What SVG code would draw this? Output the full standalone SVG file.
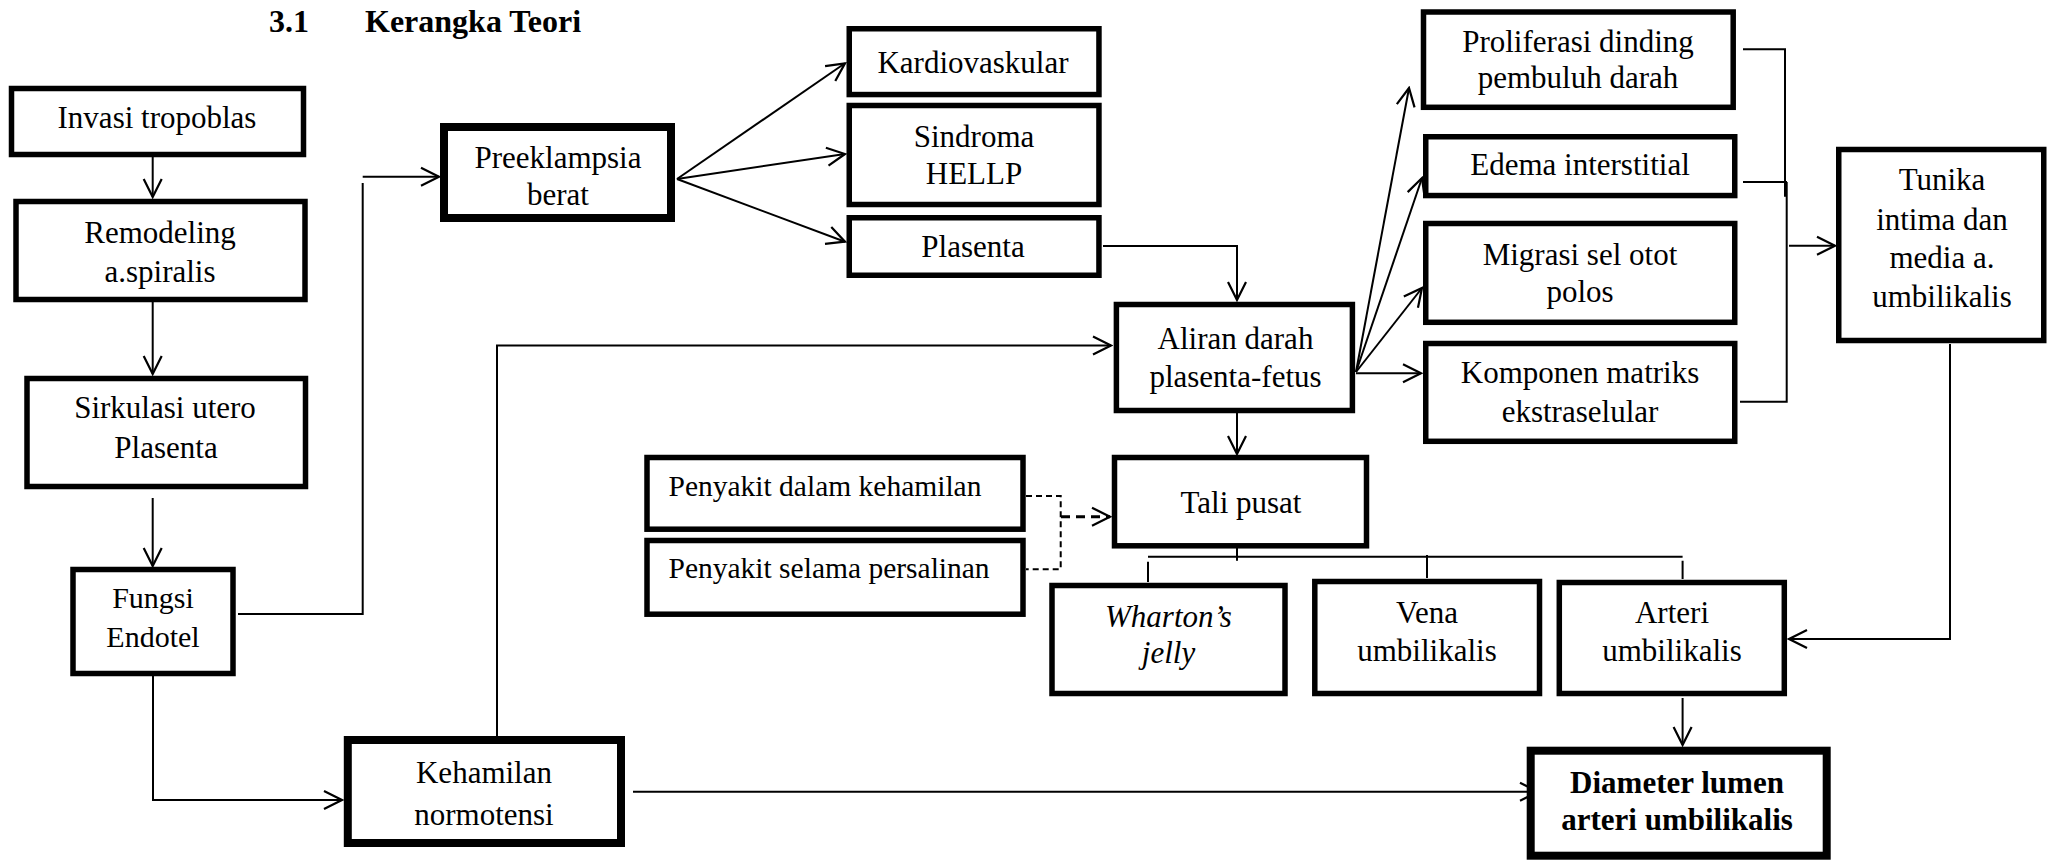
<svg xmlns="http://www.w3.org/2000/svg" width="2053" height="860" viewBox="0 0 2053 860">
<style>
.box{fill:#fff;stroke:#000;stroke-width:5.5}
.thick{stroke-width:8}
.t{font-family:'Liberation Serif','Times New Roman',serif;font-size:31px;text-anchor:middle;fill:#000}
.l{text-anchor:start;font-size:29.5px}
.b{font-weight:bold}
.i{font-style:italic}
.ttl{font-size:32px;text-anchor:start}
.c{fill:none;stroke:#000;stroke-width:2}
.d{stroke-dasharray:6 4}
.dt{stroke-width:3;stroke-dasharray:9 6}
</style>
<defs>
<marker id="a" viewBox="-20 -11 22 22" refX="0" refY="0" markerWidth="22" markerHeight="22" orient="auto" markerUnits="userSpaceOnUse">
<path d="M-18,-9 L0,0 L-18,9" fill="none" stroke="#000" stroke-width="2.2" stroke-dasharray="none"/>
</marker>
</defs>
<rect width="2053" height="860" fill="#fff"/>
<g id="title">
<text class="t b ttl" x="269" y="32">3.1</text>
<text class="t b ttl" x="365" y="32">Kerangka Teori</text>
</g>
<g id="connectors">
<path class="c" d="M152.7,152 V197" marker-end="url(#a)"/>
<path class="c" d="M152.7,302 V374" marker-end="url(#a)"/>
<path class="c" d="M152.7,498 V566" marker-end="url(#a)"/>
<path class="c" d="M238,614 H362.7 V183"/>
<path class="c" d="M362.7,176.7 H439" marker-end="url(#a)"/>
<path class="c" d="M153,676 V800 H342" marker-end="url(#a)"/>
<path class="c" d="M497,736 V345.5 H1111" marker-end="url(#a)"/>
<path class="c" d="M633,791.7 H1538" marker-end="url(#a)"/>
<path class="c" d="M677,179 L845,63.3" marker-end="url(#a)"/>
<path class="c" d="M677,179 L845,154" marker-end="url(#a)"/>
<path class="c" d="M677,179 L845,241.7" marker-end="url(#a)"/>
<path class="c" d="M1103,246 H1237 V300" marker-end="url(#a)"/>
<path class="c" d="M1237,413 V454" marker-end="url(#a)"/>
<path class="c d" d="M1026,496 H1060.7 V569.3 H1026"/>
<path class="c dt" d="M1061,516.7 H1110" marker-end="url(#a)"/>
<path class="c" d="M1237,540 V560.7 M1148,556.7 H1682.6 M1148,561.7 V582 M1427,555 V578 M1682.6,560.7 V579"/>
<path class="c" d="M1682.6,698 V745" marker-end="url(#a)"/>
<path class="c" d="M1356,372 L1409,88" marker-end="url(#a)"/>
<path class="c" d="M1356,372 L1422,178" marker-end="url(#a)"/>
<path class="c" d="M1356,372 L1422,288" marker-end="url(#a)"/>
<path class="c" d="M1356,373.3 H1421" marker-end="url(#a)"/>
<path class="c" d="M1743,49.3 H1785 V196.7 M1743,182 H1787 M1786.7,182 V401.7 H1740"/>
<path class="c" d="M1789,245.7 H1835" marker-end="url(#a)"/>
<path class="c" d="M1950,344 V639 H1789" marker-end="url(#a)"/>
</g>
<g id="invasi">
<rect class="box" x="11.5" y="88.5" width="292" height="66"/>
<text class="t" x="157" y="128">Invasi tropoblas</text>
</g>
<g id="remodeling">
<rect class="box" x="16" y="201.5" width="289" height="98"/>
<text class="t" x="160" y="243">Remodeling</text>
<text class="t" x="160" y="282">a.spiralis</text>
</g>
<g id="sirkulasi">
<rect class="box" x="27" y="378.5" width="278.5" height="108"/>
<text class="t" x="165" y="418">Sirkulasi utero</text>
<text class="t" x="166" y="458">Plasenta</text>
</g>
<g id="fungsi">
<rect class="box" x="73" y="569.5" width="160" height="104"/>
<text class="t" x="153" y="608" style="font-size:30px">Fungsi</text>
<text class="t" x="153" y="647" style="font-size:30px">Endotel</text>
</g>
<g id="preeklampsia">
<rect class="box thick" x="444" y="127" width="227" height="91"/>
<text class="t" x="558" y="168">Preeklampsia</text>
<text class="t" x="558" y="205">berat</text>
</g>
<g id="kardiovaskular">
<rect class="box" x="849.25" y="28.75" width="249.7" height="65.8"/>
<text class="t" x="973" y="72.7">Kardiovaskular</text>
</g>
<g id="hellp">
<rect class="box" x="849.25" y="105.5" width="249.7" height="99"/>
<text class="t" x="974" y="146.7">Sindroma</text>
<text class="t" x="974" y="184.3">HELLP</text>
</g>
<g id="plasenta">
<rect class="box" x="849.25" y="217.75" width="249.7" height="57.5"/>
<text class="t" x="973" y="257">Plasenta</text>
</g>
<g id="aliran">
<rect class="box" x="1116.4" y="304.5" width="236" height="106"/>
<text class="t" x="1235.5" y="349">Aliran darah</text>
<text class="t" x="1235.5" y="386.7">plasenta-fetus</text>
</g>
<g id="penyakit-dalam">
<rect class="box" x="647" y="457.5" width="376" height="71.7"/>
<text class="t l" x="668.5" y="496">Penyakit dalam kehamilan</text>
</g>
<g id="penyakit-selama">
<rect class="box" x="647" y="540.5" width="376" height="73.7"/>
<text class="t l" x="668.5" y="578.3">Penyakit selama persalinan</text>
</g>
<g id="tali-pusat">
<rect class="box" x="1114.5" y="457.5" width="252" height="88.3"/>
<text class="t" x="1241" y="513.3">Tali pusat</text>
</g>
<g id="wharton">
<rect class="box" x="1052" y="585.5" width="233" height="108"/>
<text class="t i" x="1168.5" y="626.7">Wharton’s</text>
<text class="t i" x="1168.5" y="663.3">jelly</text>
</g>
<g id="vena">
<rect class="box" x="1314.8" y="581.5" width="224.7" height="112"/>
<text class="t" x="1427" y="622.7">Vena</text>
<text class="t" x="1427" y="661">umbilikalis</text>
</g>
<g id="arteri">
<rect class="box" x="1559.3" y="582.5" width="225" height="111"/>
<text class="t" x="1672" y="622.7">Arteri</text>
<text class="t" x="1672" y="661">umbilikalis</text>
</g>
<g id="kehamilan">
<rect class="box thick" x="347.8" y="740" width="273.2" height="103"/>
<text class="t" x="484" y="783">Kehamilan</text>
<text class="t" x="484" y="825">normotensi</text>
</g>
<g id="diameter">
<rect class="box thick" x="1530.7" y="750.7" width="296" height="105"/>
<text class="t b" x="1677" y="792.7">Diameter lumen</text>
<text class="t b" x="1677" y="830">arteri umbilikalis</text>
</g>
<g id="proliferasi">
<rect class="box" x="1423.5" y="12" width="309.7" height="95.3"/>
<text class="t" x="1578" y="51.7">Proliferasi dinding</text>
<text class="t" x="1578" y="88.3">pembuluh darah</text>
</g>
<g id="edema">
<rect class="box" x="1425.75" y="136.75" width="309" height="58.8"/>
<text class="t" x="1580" y="175">Edema interstitial</text>
</g>
<g id="migrasi">
<rect class="box" x="1425.75" y="223.5" width="309" height="98.8"/>
<text class="t" x="1580" y="265">Migrasi sel otot</text>
<text class="t" x="1580" y="301.7">polos</text>
</g>
<g id="komponen">
<rect class="box" x="1425.75" y="343.5" width="309" height="97.8"/>
<text class="t" x="1580" y="383">Komponen matriks</text>
<text class="t" x="1580" y="421.7">ekstraselular</text>
</g>
<g id="tunika">
<rect class="box" x="1838.75" y="149.5" width="205" height="191"/>
<text class="t" x="1942" y="190">Tunika</text>
<text class="t" x="1942" y="230">intima dan</text>
<text class="t" x="1942" y="268.3">media a.</text>
<text class="t" x="1942" y="306.7">umbilikalis</text>
</g>
</svg>
